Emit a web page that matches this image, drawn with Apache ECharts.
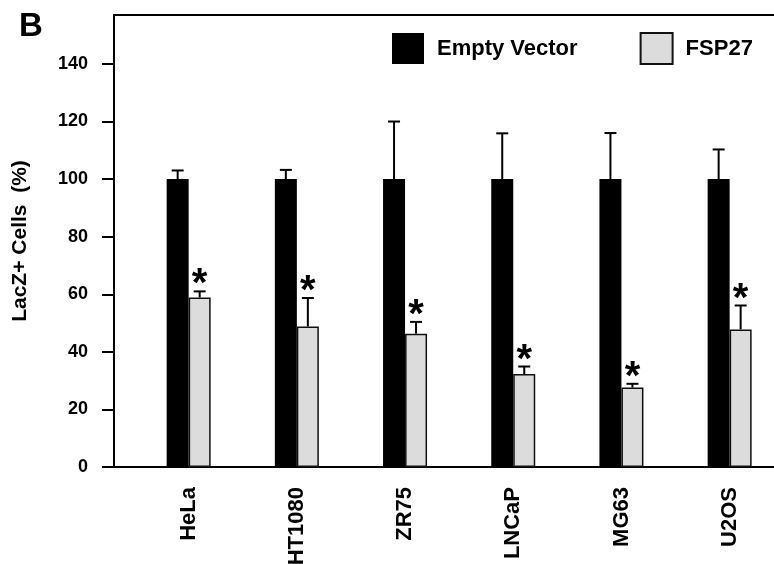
<!DOCTYPE html>
<html>
<head>
<meta charset="utf-8">
<script src="https://cdn.jsdelivr.net/npm/echarts@6/dist/echarts.min.js"></script>
<style>
  html, body { margin: 0; padding: 0; background: #fff; }
  #chart { width: 774px; height: 564px; }
</style>
</head>
<body>
<div id="chart"></div>
<script>
// data
const cellLines = ["HeLa", "HT1080", "ZR75", "LNCaP", "MG63", "U2OS"];
const emptyVector = [100, 100, 100, 100, 100, 100];
const emptyVectorErr = [3, 3.2, 20, 15.9, 16, 10.3];
const fsp27 = [58.9, 48.8, 46.3, 32.3, 27.6, 47.8];
const fsp27Err = [2.1, 9.9, 4.1, 2.6, 1.3, 8.3];
const yTicks = [0, 20, 40, 60, 80, 100, 120, 140];
const xTicks = [0, 1, 2, 3, 4, 5];

const FONT = '"Liberation Sans", Arial, sans-serif';

const chart = echarts.init(document.getElementById("chart"));

// error bar (and significance star) drawn on top of each bar
function errorBar(offset, withStar) {
  return function (params, api) {
    const i = api.value(0);
    const base = api.coord([i, api.value(1)]);
    const top = api.coord([i, api.value(1) + api.value(2)]);
    const x = base[0] + offset;
    const children = [
      {
        type: "line",
        shape: { x1: x, y1: base[1], x2: x, y2: top[1] },
        style: { stroke: "#000", lineWidth: 2 }
      },
      {
        type: "line",
        shape: { x1: x - 6, y1: top[1], x2: x + 6, y2: top[1] },
        style: { stroke: "#000", lineWidth: 2 }
      }
    ];
    if (withStar) {
      children.push({
        type: "text",
        x: x,
        y: top[1] - 6,
        style: {
          text: "*",
          font: "bold 40px " + FONT,
          fill: "#000",
          align: "center",
          verticalAlign: "middle"
        }
      });
    }
    return { type: "group", children };
  };
}

const option = {
  animation: false,
  backgroundColor: "#fff",
  textStyle: { fontFamily: FONT },
  title: {
    text: "B",
    left: 14,
    top: 5,
    textStyle: { fontSize: 33, fontWeight: "bold", color: "#000", fontFamily: FONT }
  },
  legend: {
    data: ["Empty Vector", "FSP27"],
    left: 387,
    top: 27,
    icon: "rect",
    itemWidth: 32,
    itemHeight: 31,
    itemGap: 62,
    textStyle: { fontSize: 22, fontWeight: "bold", color: "#000", fontFamily: FONT, padding: [0, 0, 0, 8] }
  },
  grid: { left: 114, right: 0, top: 15, bottom: 97, outerBoundsMode: "none" },
  xAxis: [
    {
      type: "value",
      min: -0.69,
      max: 5.41,
      splitLine: { show: false },
      axisLine: { show: true, onZero: false, lineStyle: { color: "#000", width: 2 } },
      axisTick: { show: false },
      axisLabel: {
        customValues: xTicks,
        rotate: 90,
        margin: 20,
        fontSize: 22,
        fontWeight: "bold",
        color: "#000",
        fontFamily: FONT,
        formatter: v => cellLines[Math.round(v)]
      }
    },
    {
      // top frame line
      type: "value",
      position: "top",
      min: -0.69,
      max: 5.41,
      splitLine: { show: false },
      axisLine: { show: true, onZero: false, lineStyle: { color: "#000", width: 2 } },
      axisTick: { show: false },
      axisLabel: { show: false }
    }
  ],
  yAxis: {
    type: "value",
    min: 0,
    max: 157,
    interval: 20,
    name: "LacZ+ Cells  (%)",
    nameLocation: "middle",
    nameRotate: 90,
    nameGap: 83,
    nameTextStyle: { fontSize: 21, fontWeight: "bold", color: "#000", fontFamily: FONT },
    splitLine: { show: false },
    axisLine: { show: true, onZero: false, lineStyle: { color: "#000", width: 2 } },
    axisTick: { show: true, length: 12, customValues: yTicks, lineStyle: { color: "#000", width: 2 } },
    axisLabel: {
      customValues: yTicks,
      margin: 26,
      fontSize: 18,
      fontWeight: "bold",
      color: "#000",
      fontFamily: FONT
    }
  },
  series: [
    {
      name: "Empty Vector",
      type: "bar",
      barWidth: 22,
      barGap: "0%",
      itemStyle: { color: "#000" },
      data: emptyVector.map((v, i) => [i, v])
    },
    {
      name: "FSP27",
      type: "bar",
      barWidth: 22,
      barGap: "0%",
      itemStyle: { color: "#dcdcdc", borderColor: "#111", borderWidth: 1.5 },
      data: fsp27.map((v, i) => [i, v])
    },
    {
      type: "custom",
      renderItem: errorBar(-11, false),
      encode: { x: 0, y: 1 },
      z: 3,
      data: emptyVector.map((v, i) => [i, v, emptyVectorErr[i]])
    },
    {
      type: "custom",
      renderItem: errorBar(11, true),
      encode: { x: 0, y: 1 },
      z: 3,
      data: fsp27.map((v, i) => [i, v, fsp27Err[i]])
    }
  ]
};

chart.setOption(option);
</script>
</body>
</html>
